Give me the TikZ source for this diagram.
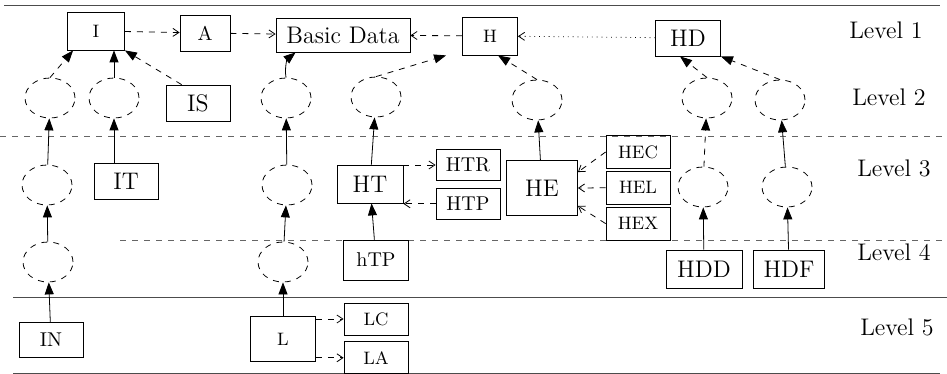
\documentclass[tikz,border=0pt]{standalone}
\usepackage{tikz}
\usetikzlibrary{positioning, shapes, arrows.meta}

\begin{document}
\begin{tikzpicture}[x=0.5pt, y=-0.5pt,
                    every node/.style = {text=black, inner sep=1pt},
                    box/.style = {draw, thin, minimum width=32pt, minimum height=18pt},
                    blob/.style = {draw, thin, dashed, ellipse, minimum width=25pt, minimum height=20pt},
                    up/.style = {thin, -{Triangle[length=6pt, width=4.5pt]}},
                    feed/.style = {thin, dashed, -{Straight Barb[length=3pt, width=4pt]}},
                    level/.style = {font=\large}]
    \useasboundingbox (0,0) rectangle (947,374);

    \draw [black!70] (4,5) -- (940,5);
    \draw [black!60, dashed] (0,136) -- (947,136);
    \draw [black!60, dashed] (120,240) -- (947,240);
    \draw [black!70] (13,297) -- (947,297);
    \draw [black!70] (13,373) -- (940,373);

    \node (v1) [level] at (886,30)  {Level 1};
    \node (v2) [level] at (889,97)  {Level 2};
    \node (v3) [level] at (894,168) {Level 3};
    \node (v4) [level] at (894,252) {Level 4};
    \node (v5) [level] at (897,327) {Level 5};

    \node (i)  [box, minimum width=28.5pt, minimum height=19pt, font=\small] at (96,31) {I};
    \node (a)  [box, minimum width=25pt] at (205,33) {A};
    \node (bd) [box, minimum width=67pt, minimum height=17pt, font=\large] at (343,35) {Basic Data};
    \node (h)  [box, minimum width=27.5pt, minimum height=19pt, font=\small] at (490,36) {H};
    \node (hd) [box, minimum width=32.5pt, font=\large] at (688,38) {HD};

    \node (is)  [box, font=\large] at (198,103) {IS};
    \node (it)  [box, font=\large] at (126,181) {IT};
    \node (ht)  [box, minimum width=33pt, minimum height=19pt, font=\large] at (370,184) {HT};
    \node (htr) [box, minimum height=15.5pt] at (468,165) {HTR};
    \node (htp) [box, minimum height=15.5pt, below=3.5pt of htr] {HTP};
    \node (he)  [box, minimum width=35.5pt, minimum height=27.5pt, font=\large] at (542,188) {HE};
    \node (hec) [box, minimum height=16.5pt, font=\small] at (638,152) {HEC};
    \node (hel) [box, minimum height=16.5pt, font=\small, below=1pt of hec] {HEL};
    \node (hex) [box, minimum height=16.5pt, font=\small, below=1pt of hel] {HEX};

    \node (hp)  [box, minimum width=32.5pt, minimum height=20pt] at (376,260) {hTP};
    \node (hdd) [box, minimum width=38pt, minimum height=19pt, font=\large] at (704,269) {HDD};
    \node (hdf) [box, minimum width=35.5pt, minimum height=19pt, font=\large] at (789,269) {HDF};

    \node (in) [box, minimum height=17.5pt] at (51,340) {IN};
    \node (l)  [box, minimum width=32.5pt, minimum height=22.5pt, font=\small] at (283,339) {L};
    \node (lc) [box, minimum height=16pt, font=\small] at (376,319) {LC};
    \node (la) [box, minimum height=16pt, font=\small, below=3pt of lc] {LA};

    \node (i1) [blob] at (50,98)  {};
    \node (i2) [blob] at (114,98) {};
    \node (b2) [blob] at (286,98) {};
    \node (h1) [blob] at (376,97) {};
    \node (h2) [blob] at (537,100) {};
    \node (d1) [blob] at (707,98) {};
    \node (d2) [blob] at (780,100) {};
    \node (i3) [blob] at (47,185) {};
    \node (b3) [blob] at (287,185) {};
    \node (d3) [blob] at (703,187) {};
    \node (d4) [blob] at (787,187) {};
    \node (i4) [blob] at (48,262) {};
    \node (b4) [blob] at (283,262) {};

    \draw [feed] (i) -- (a);
    \draw [feed] (a) -- (bd);
    \draw [feed] (h) -- (bd);
    \draw [thin, dotted, -{Straight Barb[length=3pt, width=4pt]}] (hd) -- (h);

    \draw [up, dashed] (i1.north) -- ([xshift=3pt]i.south west);
    \draw [up] (i2.north) -- (i2.north |- i.south);
    \draw [up, dashed] ([xshift=8pt]is.north west) -- (i.south east);
    \draw [up] (b2.north) to [bend left=30] ([xshift=10pt]bd.south west);
    \draw [up, dashed] (h1.north) -- ([xshift=-8pt]h.south west);
    \draw [up, dashed] (h2.north) -- ([xshift=4pt]h.south);
    \draw [up, dashed] (d1.north) -- ([xshift=-4pt]hd.south);
    \draw [up, dashed] (d2.north) -- (hd.south east);

    \draw [up] (i3) -- (i1);
    \draw [up] (it.north -| i2) -- (i2.south);
    \draw [up] (b3) -- (b2);
    \draw [up] (ht) -- (h1);
    \draw [up] (he) -- (h2);
    \draw [up, dashed] (d3) -- (d1);
    \draw [up] (d4) -- (d2);

    \draw [feed] (ht.east |- htr.west) -- (htr.west);
    \draw [feed] (htp.west) -- (htp.west -| ht.east);
    \draw [feed] (hec.west) -- ([yshift=-6pt]he.north east);
    \draw [feed] (hel.west) -- (he.east);
    \draw [feed] (hex.west) -- ([yshift=5pt]he.south east);

    \draw [up] (i4) -- (i3);
    \draw [up] (b4) -- (b3);
    \draw [up] (hp) -- (ht);
    \draw [up] (hdd) -- (d3);
    \draw [up] (hdf) -- (d4);

    \draw [up] (in) -- (i4);
    \draw [up] (l) -- (b4);
    \draw [feed] (l.east |- lc.west) -- (lc.west);
    \draw [feed] (l.east |- la.west) -- (la.west);
\end{tikzpicture}
\end{document}
